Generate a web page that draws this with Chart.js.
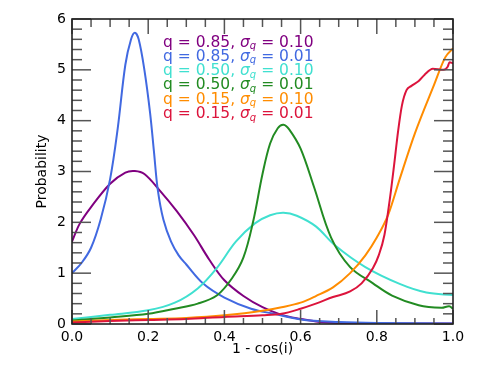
<!DOCTYPE html>
<html>
<head>
<meta charset="utf-8">
<script src="https://cdn.jsdelivr.net/npm/chart.js@4.4.1/dist/chart.umd.min.js"></script>
<style>
  html, body { margin: 0; padding: 0; background: #fff; }
</style>
</head>
<body>
<canvas id="c" width="477" height="382"></canvas>
<script>
// tick labels
const xTicks = [0, 0.2, 0.4, 0.6, 0.8, 1.0];
const yTicks = [0, 1, 2, 3, 4, 5, 6];

// legend text
const qLabels = ['0.85', '0.85', '0.50', '0.50', '0.15', '0.15'];
const sigmaLabels = ['0.10', '0.01', '0.10', '0.01', '0.10', '0.01'];

// q = 0.85, sigma = 0.10
const purpleX = [0, 0.02, 0.05, 0.1, 0.14, 0.165, 0.19, 0.23, 0.275, 0.32, 0.36, 0.4, 0.45, 0.5, 0.55, 0.6, 0.65, 0.7, 0.8, 1.0];
const purpleY = [1.62, 1.97, 2.3, 2.76, 2.98, 3.01, 2.95, 2.63, 2.22, 1.75, 1.27, 0.86, 0.55, 0.33, 0.18, 0.1, 0.04, 0.02, 0.01, 0.01];
// q = 0.85, sigma = 0.01
const blueX = [0, 0.025, 0.05, 0.075, 0.1, 0.12, 0.14, 0.155, 0.165, 0.175, 0.19, 0.205, 0.215, 0.225, 0.24, 0.26, 0.28, 0.3, 0.345, 0.4, 0.47, 0.53, 0.6, 0.7, 0.8, 1.0];
const blueY = [1.0, 1.2, 1.5, 2.05, 2.85, 3.85, 5.1, 5.6, 5.73, 5.6, 5.0, 4.15, 3.4, 2.65, 2.05, 1.62, 1.35, 1.17, 0.79, 0.52, 0.3, 0.2, 0.09, 0.04, 0.02, 0.01];
// q = 0.50, sigma = 0.10
const turqX = [0, 0.1, 0.2, 0.27, 0.33, 0.38, 0.43, 0.48, 0.52, 0.555, 0.59, 0.64, 0.69, 0.77, 0.86, 0.93, 1.0];
const turqY = [0.1, 0.18, 0.27, 0.42, 0.7, 1.1, 1.62, 1.98, 2.14, 2.19, 2.13, 1.92, 1.55, 1.12, 0.79, 0.62, 0.57];
// q = 0.50, sigma = 0.01
const greenX = [0, 0.1, 0.2, 0.27, 0.33, 0.38, 0.42, 0.45, 0.475, 0.5, 0.52, 0.54, 0.555, 0.57, 0.6, 0.635, 0.68, 0.73, 0.79, 0.84, 0.91, 0.97, 0.99, 1.0];
const greenY = [0.07, 0.13, 0.2, 0.3, 0.4, 0.56, 0.9, 1.31, 2.0, 2.95, 3.55, 3.85, 3.92, 3.83, 3.45, 2.7, 1.7, 1.12, 0.8, 0.56, 0.37, 0.32, 0.35, 0.3];
// q = 0.15, sigma = 0.10
const orangeX = [0, 0.1, 0.2, 0.3, 0.4, 0.5, 0.55, 0.6, 0.64, 0.685, 0.73, 0.77, 0.8, 0.83, 0.86, 0.9, 0.95, 0.98, 1.0];
const orangeY = [0.05, 0.08, 0.1, 0.12, 0.17, 0.26, 0.33, 0.42, 0.55, 0.72, 1.0, 1.35, 1.7, 2.15, 2.85, 3.75, 4.7, 5.25, 5.42];
// q = 0.15, sigma = 0.01
const redX = [0, 0.1, 0.2, 0.3, 0.4, 0.5, 0.55, 0.6, 0.64, 0.685, 0.73, 0.76, 0.79, 0.805, 0.82, 0.835, 0.845, 0.856, 0.866, 0.878, 0.89, 0.91, 0.925, 0.947, 0.975, 0.986, 0.991, 1.0];
const redY = [0.03, 0.06, 0.08, 0.1, 0.14, 0.17, 0.2, 0.3, 0.4, 0.53, 0.64, 0.8, 1.1, 1.35, 1.75, 2.5, 3.1, 3.8, 4.3, 4.6, 4.68, 4.78, 4.9, 5.02, 5.0, 5.06, 5.15, 5.13];

const seriesX = [purpleX, blueX, turqX, greenX, orangeX, redX];
const seriesY = [purpleY, blueY, turqY, greenY, orangeY, redY];
const colors = ['#800080', '#4169e1', '#40e0d0', '#228b22', '#ff8c00', '#dc143c'];

const FONT = '"DejaVu Sans"';

// legend drawn as text with a subscript q
const legendPlugin = {
  id: 'qLegend',
  afterDraw(chart) {
    const ctx = chart.ctx;
    ctx.save();
    ctx.textBaseline = 'alphabetic';
    ctx.textAlign = 'left';
    qLabels.forEach((q, i) => {
      let x = 163;
      const y = 46.5 + i * 14.3;
      ctx.fillStyle = colors[i];
      ctx.font = '15.5px ' + FONT;
      const s = 'q = ' + q + ', ';
      ctx.fillText(s, x, y);
      x += ctx.measureText(s).width;
      ctx.font = 'italic 15.5px ' + FONT;
      ctx.fillText('σ', x, y);
      x += ctx.measureText('σ').width;
      ctx.font = 'italic 10px ' + FONT;
      ctx.fillText('q', x, y + 2.5);
      x += ctx.measureText('q').width;
      ctx.font = '15.5px ' + FONT;
      ctx.fillText(' = ' + sigmaLabels[i], x, y);
    });
    ctx.restore();
  }
};

// box with inward ticks on all four sides
const framePlugin = {
  id: 'frame',
  afterDatasetsDraw(chart) {
    const { ctx, chartArea: a, scales } = chart;
    const line = (x1, y1, x2, y2) => {
      ctx.beginPath();
      ctx.moveTo(x1, y1);
      ctx.lineTo(x2, y2);
      ctx.stroke();
    };
    ctx.save();
    ctx.strokeStyle = '#555';
    ctx.lineWidth = 1.5;
    for (let k = 0; k <= 20; k++) {
      const px = scales.x.getPixelForValue(k * 0.05);
      const major = k % 4 === 0;
      line(px, a.bottom, px, a.bottom - (major ? 14 : 6));
      line(px, a.top, px, a.top + (major ? 15 : 8));
    }
    for (let k = 0; k <= 30; k++) {
      const py = scales.y.getPixelForValue(k * 0.2);
      const len = k % 5 === 0 ? 19 : 10;
      line(a.left, py, a.left + len, py);
      line(a.right, py, a.right - len, py);
    }
    ctx.strokeStyle = '#222';
    ctx.lineWidth = 1.6;
    ctx.strokeRect(a.left, a.top, a.right - a.left, a.bottom - a.top);
    ctx.restore();
  }
};

// the steep red curve keeps monotone interpolation so it does not overshoot
const datasets = seriesX.map((xs, i) => ({
  label: 'q = ' + qLabels[i] + ', σq = ' + sigmaLabels[i],
  data: xs.map((x, j) => ({ x: x, y: seriesY[i][j] })),
  borderColor: colors[i],
  borderWidth: 2,
  pointRadius: 0,
  fill: false,
  tension: 0.35,
  cubicInterpolationMode: i >= 4 ? 'monotone' : 'default',
  order: seriesX.length - 1 - i
}));

new Chart(document.getElementById('c'), {
  type: 'line',
  data: { datasets },
  options: {
    responsive: false,
    animation: false,
    devicePixelRatio: 1,
    layout: { padding: { top: 19, right: 24, left: 0, bottom: 0 } },
    plugins: { legend: { display: false }, tooltip: { enabled: false } },
    scales: {
      x: {
        type: 'linear',
        min: 0,
        max: 1,
        afterBuildTicks: (s) => { s.ticks = xTicks.map(v => ({ value: v })); },
        afterFit: (s) => { s.height = 58; },
        grid: { display: false, drawTicks: false },
        border: { display: false },
        ticks: {
          color: '#000',
          padding: 5,
          maxRotation: 0,
          font: { family: 'DejaVu Sans', size: 14 },
          callback: (v) => Number(v).toFixed(1)
        },
        title: {
          display: true,
          text: '1 - cos(i)',
          color: '#000',
          font: { family: 'DejaVu Sans', size: 14 },
          padding: { top: 0, bottom: 24 }
        }
      },
      y: {
        type: 'linear',
        min: 0,
        max: 6,
        afterBuildTicks: (s) => { s.ticks = yTicks.map(v => ({ value: v })); },
        afterFit: (s) => { s.width = 72; },
        grid: { display: false, drawTicks: false },
        border: { display: false },
        ticks: {
          color: '#000',
          padding: 6,
          font: { family: 'DejaVu Sans', size: 14 },
          callback: (v) => String(v)
        },
        title: {
          display: true,
          text: 'Probability',
          color: '#000',
          font: { family: 'DejaVu Sans', size: 14 },
          padding: { top: 34, bottom: 0 }
        }
      }
    }
  },
  plugins: [framePlugin, legendPlugin]
});
</script>
</body>
</html>
